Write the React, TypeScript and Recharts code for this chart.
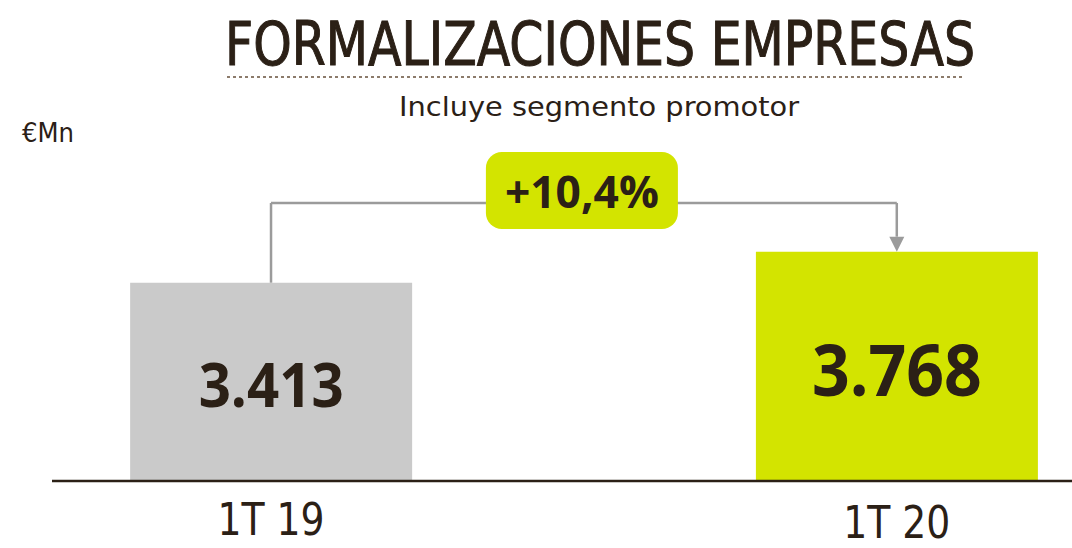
import { BarChart, Bar, Cell, XAxis, YAxis, LabelList, ReferenceLine, ReferenceDot } from 'recharts';

if (typeof document !== 'undefined') document.body.style.margin = '0';

const categories = ['1T 19', '1T 20'];
const values = [3413, 3768];
const barColors = ['#cacaca', '#d3e400'];

const TEXT = '#2b2016';
const CONNECTOR = '#9b9b9b';
const NARROW = "'Liberation Sans Narrow', 'DejaVu Sans Condensed', Roboto, sans-serif";

// axis window (bars do not start at zero)
const Y_MIN = 1142;
const Y_MAX = 5505;
const CONN_Y = 4326; // level of the elbow connector
const BOX_Y = 4469; // centre of the growth badge

const data = categories.map((label, i) => ({ idx: i, label, value: values[i] }));

const growth = (values[1] / values[0] - 1) * 100;
const growthText = `+${growth.toFixed(1).replace('.', ',')}%`;

const fmtThousands = (v: number) => String(v).replace(/\B(?=(\d{3})+(?!\d))/g, '.');

const valueStyle = [
  { size: 60, len: 145 },
  { size: 71, len: 170 },
];

const CategoryTick = (props: any) => {
  const { x, y, payload } = props;
  const i = payload.value as number;
  const dy = i === 0 ? 46 : 49;
  return (
    <text
      x={x}
      y={y + dy}
      textAnchor="middle"
      fill={TEXT}
      fontFamily={NARROW}
      fontSize={44}
      textLength={107}
      lengthAdjust="spacingAndGlyphs"
    >
      {categories[i]}
    </text>
  );
};

const ValueLabel = (props: any) => {
  const { x, y, width, height, value, index } = props;
  const s = valueStyle[index] ?? valueStyle[0];
  const cx = x + width / 2;
  const cy = y + height / 2 + s.size * 0.36 + 4;
  return (
    <text
      x={cx}
      y={cy}
      textAnchor="middle"
      fill={TEXT}
      fontFamily="'Open Sans', 'Noto Sans', sans-serif"
      fontWeight={700}
      fontSize={s.size}
      textLength={s.len}
      lengthAdjust="spacingAndGlyphs"
    >
      {fmtThousands(value)}
    </text>
  );
};

const ArrowDown = (props: any) => {
  const { x1, y1, x2, y2 } = props;
  const head = 15;
  return (
    <g>
      <line x1={x1} y1={y1} x2={x2} y2={y2 - head} stroke={CONNECTOR} strokeWidth={2.5} />
      <path d={`M${x2 - 7.5},${y2 - head} L${x2 + 7.5},${y2 - head} L${x2},${y2} Z`} fill={CONNECTOR} />
    </g>
  );
};

const GrowthBadge = (props: any) => {
  const { cx, cy } = props;
  const w = 192;
  const h = 77;
  return (
    <g>
      <rect x={cx - w / 2 - 2} y={cy - h / 2} width={w} height={h} rx={16} ry={16} fill="#d3e400" />
      <text
        x={cx - 2}
        y={cy + 18}
        textAnchor="middle"
        fill={TEXT}
        fontFamily="'Open Sans', 'Noto Sans', sans-serif"
        fontWeight={700}
        fontSize={45}
        textLength={154}
        lengthAdjust="spacingAndGlyphs"
      >
        {growthText}
      </text>
    </g>
  );
};

export default function App() {
  return (
    <div style={{ position: 'relative', width: 1072, height: 548, background: '#fff' }}>
      <BarChart width={1072} height={548} data={data} margin={{ top: 100, right: 0, bottom: 0, left: 52 }}>
        <XAxis
          dataKey="idx"
          type="number"
          domain={[-0.35, 1.28]}
          ticks={[0, 1]}
          interval={0}
          height={67}
          tickLine={false}
          axisLine={{ stroke: TEXT, strokeWidth: 2.5 }}
          tick={<CategoryTick />}
        />
        <YAxis hide domain={[Y_MIN, Y_MAX]} allowDataOverflow />
        <Bar dataKey="value" barSize={282} isAnimationActive={false}>
          {data.map((_, i) => (
            <Cell key={`cell-${i}`} fill={barColors[i]} />
          ))}
          <LabelList dataKey="value" content={<ValueLabel />} />
        </Bar>
        <ReferenceLine
          segment={[{ x: 0, y: values[0] }, { x: 0, y: CONN_Y }]}
          stroke={CONNECTOR}
          strokeWidth={2.5}
        />
        <ReferenceLine
          segment={[{ x: 0, y: CONN_Y }, { x: 1, y: CONN_Y }]}
          stroke={CONNECTOR}
          strokeWidth={2.5}
        />
        <ReferenceLine
          segment={[{ x: 1, y: CONN_Y }, { x: 1, y: values[1] }]}
          shape={<ArrowDown />}
        />
        <ReferenceDot x={0.5} y={BOX_Y} r={1} shape={<GrowthBadge />} />
      </BarChart>
      <svg
        width={1072}
        height={548}
        style={{ position: 'absolute', left: 0, top: 0, pointerEvents: 'none' }}
      >
        <text
          x={225}
          y={65}
          fill={TEXT}
          stroke={TEXT}
          strokeWidth={1}
          fontFamily={NARROW}
          fontSize={61}
          textLength={750}
          lengthAdjust="spacingAndGlyphs"
        >
          FORMALIZACIONES EMPRESAS
        </text>
        <line x1={227} y1={77} x2={965} y2={77} stroke="#8c7b6b" strokeWidth={2} strokeDasharray="3 3" />
        <text
          x={399}
          y={116}
          fill={TEXT}
          fontFamily={NARROW}
          fontSize={27}
          textLength={400}
          lengthAdjust="spacingAndGlyphs"
        >
          Incluye segmento promotor
        </text>
        <text
          x={22}
          y={142}
          fill={TEXT}
          fontFamily={NARROW}
          fontSize={26}
          textLength={52}
          lengthAdjust="spacingAndGlyphs"
        >
          €Mn
        </text>
      </svg>
    </div>
  );
}
